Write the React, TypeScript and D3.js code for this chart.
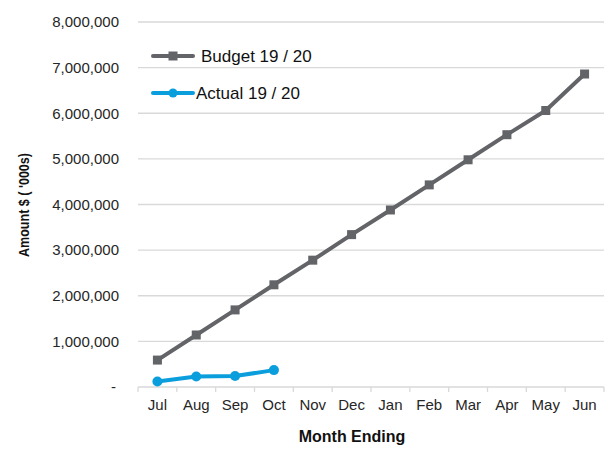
import React from "react";
import * as d3 from "d3";

const months = ["Jul", "Aug", "Sep", "Oct", "Nov", "Dec", "Jan", "Feb", "Mar", "Apr", "May", "Jun"];
const budget = [590000, 1140000, 1690000, 2240000, 2780000, 3340000, 3880000, 4430000, 4980000, 5530000, 6060000, 6860000];
const actual = [120000, 230000, 240000, 370000];
const yTicks = [0, 1000000, 2000000, 3000000, 4000000, 5000000, 6000000, 7000000, 8000000];

const W = 605, H = 449;
const L = 138, R = 604, T = 22, B = 387;
const FONT = "'Liberation Sans', Arial, sans-serif";
const GREY = "#636468";
const BLUE = "#0a9fdc";
const TXT = "#262626";

export default function App() {
  const x = d3.scaleBand<string>().domain(months).range([L, R]);
  const y = d3.scaleLinear().domain([0, 8000000]).range([B, T]);
  const cx = (m: string) => (x(m) as number) + x.bandwidth() / 2;
  const line = d3.line<[string, number]>().x(d => cx(d[0])).y(d => y(d[1]));
  const bData: [string, number][] = budget.map((v, i) => [months[i], v]);
  const aData: [string, number][] = actual.map((v, i) => [months[i], v]);
  const fmt = d3.format(",");
  const boundaries = d3.range(months.length + 1).map(i => L + i * x.step());

  return (
    <svg width={W} height={H} style={{ position: "absolute", left: 0, top: 0, fontFamily: FONT }}>
      <rect width={W} height={H} fill="#fff" />
      {yTicks.map(t => (
        <g key={t}>
          {t > 0 && <line x1={L} x2={R} y1={y(t)} y2={y(t)} stroke="#d9d9d9" strokeWidth={1.3} />}
          <text x={t === 0 ? 116 : 119} y={y(t)} dy="0.35em" textAnchor="end" fontSize={15} fill={TXT}>
            {t === 0 ? "-" : fmt(t)}
          </text>
        </g>
      ))}
      <line x1={L} x2={R} y1={B} y2={B} stroke="#d9d9d9" strokeWidth={1.3} />
      {boundaries.map((bx, i) => (
        <line key={i} x1={bx} x2={bx} y1={B} y2={B + 5} stroke="#d9d9d9" strokeWidth={1.3} />
      ))}
      {months.map(m => (
        <text key={m} x={cx(m)} y={410} textAnchor="middle" fontSize={15} fill={TXT}>{m}</text>
      ))}
      <text x={352} y={442} textAnchor="middle" fontSize={16} fontWeight="bold" fill="#111">Month Ending</text>
      <text transform={`translate(29,205) rotate(-90)`} textAnchor="middle" fontSize={15} fontWeight="bold" fill="#111"
        textLength={104} lengthAdjust="spacingAndGlyphs">
        Amount $ ( '000s)
      </text>

      <path d={line(bData) || ""} fill="none" stroke={GREY} strokeWidth={4} strokeLinejoin="round" />
      {bData.map(d => (
        <rect key={d[0]} x={cx(d[0]) - 4.5} y={y(d[1]) - 4.5} width={9} height={9} fill={GREY} />
      ))}
      <path d={line(aData) || ""} fill="none" stroke={BLUE} strokeWidth={4} strokeLinejoin="round" />
      {aData.map(d => (
        <circle key={d[0]} cx={cx(d[0])} cy={y(d[1])} r={5} fill={BLUE} />
      ))}

      <g>
        <line x1={153} x2={193} y1={56} y2={56} stroke={GREY} strokeWidth={4} strokeLinecap="round" />
        <rect x={168.5} y={51.5} width={9} height={9} fill={GREY} />
        <text x={201} y={56} dy="0.35em" fontSize={17} fill="#111">Budget 19 / 20</text>
        <line x1={153} x2={193} y1={93} y2={93} stroke={BLUE} strokeWidth={4} strokeLinecap="round" />
        <circle cx={173} cy={93} r={4.5} fill={BLUE} />
        <text x={196} y={93} dy="0.35em" fontSize={17} fill="#111">Actual 19 / 20</text>
      </g>
    </svg>
  );
}
